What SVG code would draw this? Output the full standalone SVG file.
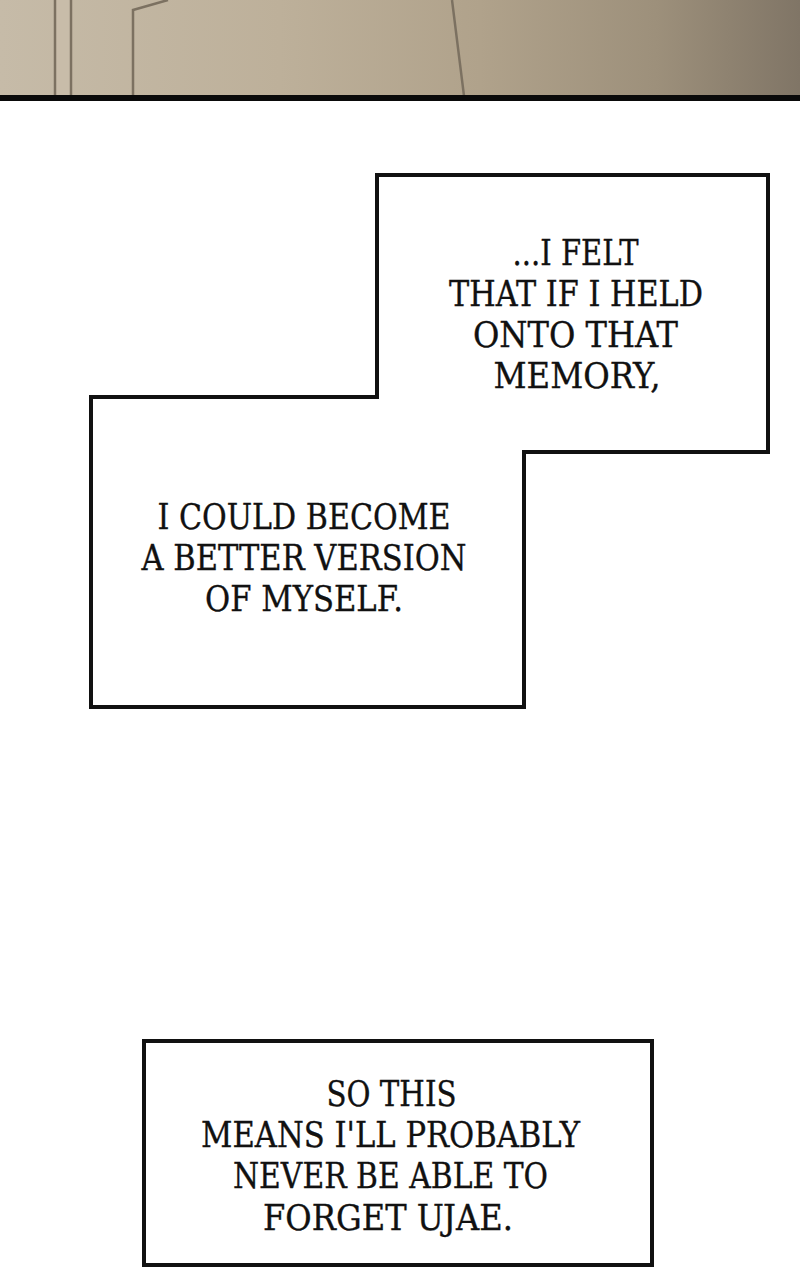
<svg xmlns="http://www.w3.org/2000/svg" width="800" height="1280" viewBox="0 0 800 1280">
<defs>
<linearGradient id="wall" x1="0" y1="0" x2="1" y2="0">
<stop offset="0" stop-color="#c6bba8"/>
<stop offset="0.35" stop-color="#bdb09a"/>
<stop offset="0.6" stop-color="#b0a28b"/>
<stop offset="0.82" stop-color="#9d907b"/>
<stop offset="1" stop-color="#807566"/>
</linearGradient>
<style>
.box{fill:#fff;stroke:#111;stroke-width:4;stroke-linejoin:miter}
.cap{font-family:"DejaVu Serif","Liberation Serif",serif;font-size:35.5px;fill:#111;stroke:#111;stroke-width:0.35;text-anchor:middle}
.edge{stroke:#7c7161;stroke-width:2.5;fill:none}
</style>
</defs>
<rect x="0" y="0" width="800" height="1280" fill="#fff"/>
<g id="scene">
<rect x="0" y="0" width="800" height="96" fill="url(#wall)"/>
<rect x="56" y="0" width="15" height="96" fill="#cbc0ad" opacity="0.5"/>
<path class="edge" d="M55 0 V96"/>
<path class="edge" d="M71 0 V96"/>
<path class="edge" d="M133 96 V10 L168 0"/>
<path class="edge" d="M452 0 L464 96"/>
<rect x="0" y="95" width="800" height="6" fill="#0a0a0a"/>
</g>
<g id="caption-shape">
<path class="box" d="M377 175 H768 V452 H524 V707 H91 V397 H377 Z"/>
</g>
<g id="caption-1">
<text class="cap" x="575.5" y="265" textLength="126" lengthAdjust="spacingAndGlyphs">...I FELT</text>
<text class="cap" x="576" y="306" textLength="254" lengthAdjust="spacingAndGlyphs">THAT IF I HELD</text>
<text class="cap" x="575.5" y="347" textLength="205" lengthAdjust="spacingAndGlyphs">ONTO THAT</text>
<text class="cap" x="577" y="388" textLength="167" lengthAdjust="spacingAndGlyphs">MEMORY,</text>
</g>
<g id="caption-2">
<text class="cap" x="304" y="529" textLength="293" lengthAdjust="spacingAndGlyphs">I COULD BECOME</text>
<text class="cap" x="304" y="570" textLength="325" lengthAdjust="spacingAndGlyphs">A BETTER VERSION</text>
<text class="cap" x="304" y="611" textLength="198" lengthAdjust="spacingAndGlyphs">OF MYSELF.</text>
</g>
<g id="caption-3">
<rect class="box" x="144" y="1041" width="508" height="224"/>
<text class="cap" x="391.5" y="1106" textLength="130" lengthAdjust="spacingAndGlyphs">SO THIS</text>
<text class="cap" x="390.5" y="1147" textLength="379" lengthAdjust="spacingAndGlyphs">MEANS I'LL PROBABLY</text>
<text class="cap" x="390.5" y="1188" textLength="315" lengthAdjust="spacingAndGlyphs">NEVER BE ABLE TO</text>
<text class="cap" x="388" y="1230" textLength="250" lengthAdjust="spacingAndGlyphs">FORGET UJAE.</text>
</g>
<g id="connectors"/>
</svg>
